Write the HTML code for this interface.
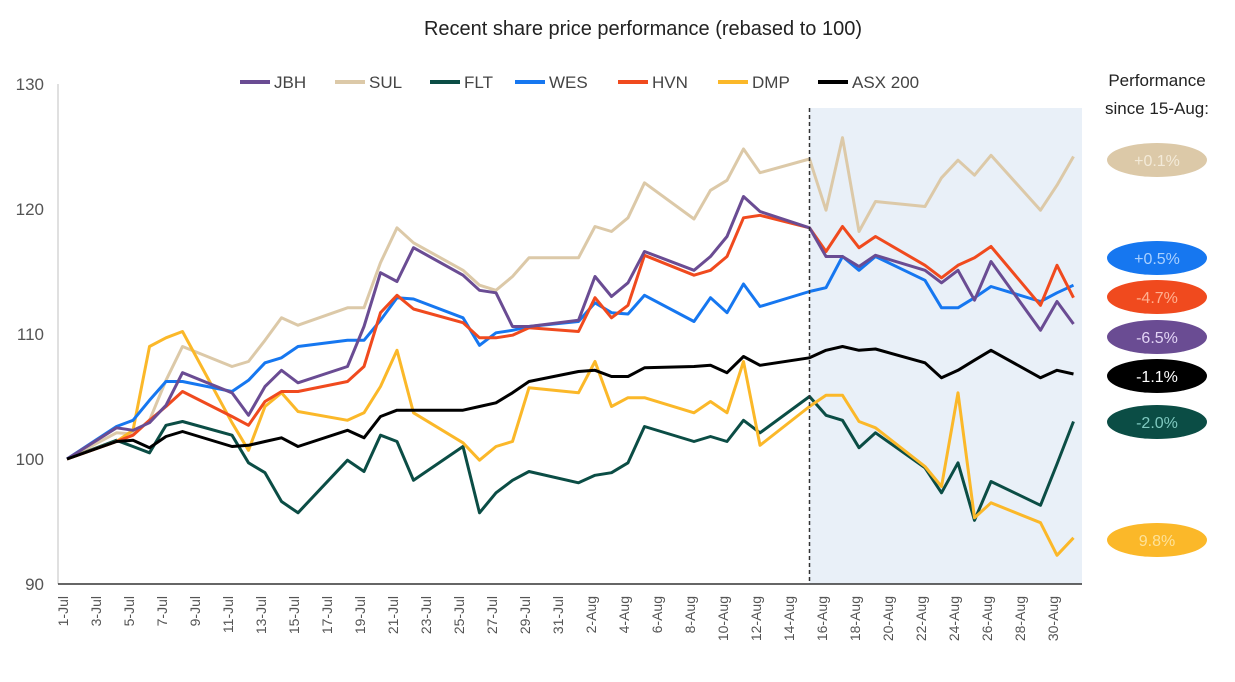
<!DOCTYPE html>
<html><head><meta charset="utf-8"><style>
body{margin:0;background:#fff;font-family:"Liberation Sans",sans-serif;}
svg{display:block}
</style></head><body>
<svg id="chart" width="1235" height="682" xmlns="http://www.w3.org/2000/svg"></svg>
<script>
const dayIdx=[0,3,4,5,6,7,10,11,12,13,14,17,18,19,20,21,24,25,26,27,28,31,32,33,34,35,38,39,40,41,42,45,46,47,48,49,52,53,54,55,56,59,60,61];
const jbh=[100,102.5,102.3,102.9,104.3,106.9,105.3,103.5,105.8,107.1,106.1,107.4,110.6,114.9,114.2,116.9,114.7,113.5,113.3,110.6,110.6,111.1,114.6,113.0,114.1,116.6,115.1,116.2,117.8,121.0,119.8,118.5,116.2,116.2,115.4,116.3,115.1,114.1,115.1,112.7,115.8,110.3,112.6,110.8];
const sul=[100,102.1,102.0,103.1,106.3,109.0,107.4,107.8,109.5,111.3,110.7,112.1,112.1,115.7,118.5,117.3,115.1,113.9,113.5,114.6,116.1,116.1,118.6,118.2,119.3,122.1,119.2,121.5,122.3,124.8,122.9,124.0,119.9,125.7,118.2,120.6,120.2,122.5,123.9,122.7,124.3,119.9,121.9,124.2];
const flt=[100,101.5,101.0,100.5,102.7,103.0,101.9,99.7,98.9,96.6,95.7,99.9,99.0,101.9,101.4,98.3,101.0,95.7,97.3,98.3,99.0,98.1,98.7,98.9,99.7,102.6,101.4,101.8,101.4,103.1,102.1,105.0,103.5,103.1,100.9,102.1,99.3,97.3,99.7,95.1,98.2,96.3,99.6,103.0];
const wes=[100,102.6,103.1,104.7,106.2,106.2,105.4,106.3,107.7,108.1,109.0,109.5,109.5,111.1,112.9,112.8,111.3,109.1,110.1,110.3,110.6,111.0,112.5,111.7,111.6,113.1,111.0,112.9,111.7,114.0,112.2,113.4,113.7,116.2,115.1,116.2,114.3,112.1,112.1,112.9,113.8,112.6,113.3,113.9];
const hvn=[100,101.4,101.9,103.1,104.2,105.4,103.4,102.7,104.6,105.4,105.4,106.2,107.4,111.7,113.1,112.0,110.9,109.7,109.7,109.9,110.5,110.2,112.9,111.3,112.3,116.3,114.7,115.1,116.2,119.3,119.5,118.5,116.6,118.6,116.9,117.8,115.5,114.5,115.5,116.1,117.0,112.3,115.5,112.9];
const dmp=[100,101.4,102.3,109.0,109.7,110.2,102.9,100.7,104.2,105.3,103.8,103.1,103.7,105.8,108.7,103.7,101.3,99.9,101.0,101.4,105.7,105.3,107.8,104.2,104.9,104.9,103.7,104.6,103.7,107.8,101.1,104.2,105.1,105.1,103.0,102.5,99.4,97.8,105.3,95.3,96.5,94.9,92.3,93.7];
const asx=[100,101.4,101.5,100.9,101.8,102.2,101.0,101.1,101.4,101.7,101.0,102.3,101.7,103.4,103.9,103.9,103.9,104.2,104.5,105.3,106.2,107.0,107.1,106.6,106.6,107.3,107.4,107.5,106.9,108.2,107.5,108.1,108.7,109.0,108.7,108.8,107.7,106.5,107.1,107.9,108.7,106.5,107.1,106.8];
const seriesNames=["JBH","SUL","FLT","WES","HVN","DMP","ASX 200"];
const seriesColors=["#6a4c93","#dcc9a8","#0b4d45","#1677f0","#f04a1e","#fbb829","#000000"];
const yTicks=[90,100,110,120,130];
const xTickLabels=["1-Jul","3-Jul","5-Jul","7-Jul","9-Jul","11-Jul","13-Jul","15-Jul","17-Jul","19-Jul","21-Jul","23-Jul","25-Jul","27-Jul","29-Jul","31-Jul","2-Aug","4-Aug","6-Aug","8-Aug","10-Aug","12-Aug","14-Aug","16-Aug","18-Aug","20-Aug","22-Aug","24-Aug","26-Aug","28-Aug","30-Aug"];
const perfLabels=["+0.1%","+0.5%","-4.7%","-6.5%","-1.1%","-2.0%","9.8%"];
const perfColors=["#dcc9a8","#1677f0","#f04a1e","#6a4c93","#000000","#0b4d45","#fbb829"];
const perfTextColors=["#f3ead8","#a9d0ff","#ffb090","#e2d4f5","#ffffff","#7fc9c0","#fde29a"];
const perfY=[160,258,297,337,376,422,540];

const NS="http://www.w3.org/2000/svg";
const svg=document.getElementById('chart');
const X=d=>67+16.5*d;
const Y=v=>584-(v-90)*12.5;
function mk(t,a,p){const e=document.createElementNS(NS,t);for(const k in a)e.setAttribute(k,a[k]);(p||svg).appendChild(e);return e;}

let r=mk('rect',{x:X(45),y:108,width:1082-X(45),height:476,fill:'#e9f0f8'});



let t=mk('text',{x:643,y:35,'text-anchor':'middle','font-size':20,fill:'#222'});t.textContent='Recent share price performance (rebased to 100)';



let ya=mk('line',{x1:58,y1:84,x2:58,y2:584,stroke:'#ccc','stroke-width':1.2});


yTicks.forEach(v=>{const e=mk('text',{x:44,y:Y(v)+6,'text-anchor':'end','font-size':17,fill:'#555'});e.textContent=v;

});

xTickLabels.forEach((s,i)=>{const x=X(i*2)-4;const e=mk('text',{x:0,y:0,'text-anchor':'end','font-size':14,fill:'#555',transform:`translate(${x+5},596) rotate(-90)`});e.textContent=s;

});

const data=[jbh,sul,flt,wes,hvn,dmp,asx];
const order=[1,2,5,3,4,0,6];
order.forEach(si=>{const pts=data[si].map((v,i)=>X(dayIdx[i]).toFixed(1)+','+Y(v).toFixed(1)).join(' ');
const p=mk('polyline',{points:pts,fill:'none',stroke:seriesColors[si],'stroke-width':3,'stroke-linejoin':'round'});

});

let dl=mk('line',{x1:X(45),y1:108,x2:X(45),y2:584,stroke:'#333','stroke-width':1.5,'stroke-dasharray':'4,3'});


let xa=mk('line',{x1:58,y1:584,x2:1082,y2:584,stroke:'#333','stroke-width':1.5});



const legX=[240,335,430,515,618,718,818];
seriesNames.forEach((n,i)=>{const g=mk('g',{});


mk('line',{x1:legX[i],y1:82,x2:legX[i]+30,y2:82,stroke:seriesColors[i],'stroke-width':4},g);
const e=mk('text',{x:legX[i]+34,y:88,'font-size':17,fill:'#444'},g);e.textContent=n;});

[['Performance',86],['since 15-Aug:',114]].forEach(([s,y])=>{const e=mk('text',{x:1157,y:y,'text-anchor':'middle','font-size':17,fill:'#222'});e.textContent=s;

});
perfLabels.forEach((s,i)=>{const g=mk('g',{});


mk('ellipse',{cx:1157,cy:perfY[i],rx:50,ry:17,fill:perfColors[i]},g);
const e=mk('text',{x:1157,y:perfY[i]+6,'text-anchor':'middle','font-size':16,fill:perfTextColors[i]},g);e.textContent=s;});
</script>
</body></html>
